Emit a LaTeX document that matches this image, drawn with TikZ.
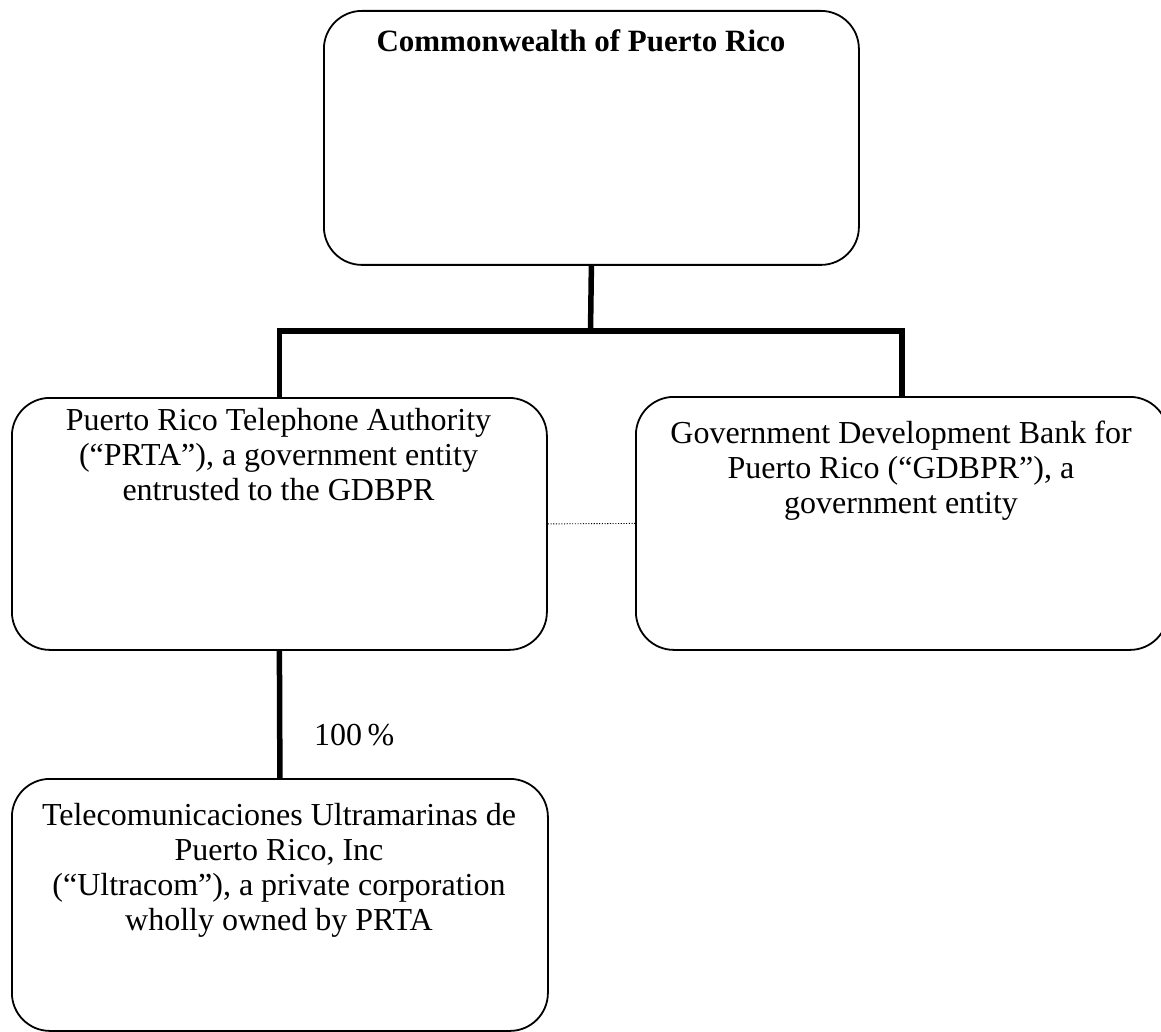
\documentclass[tikz,border=0pt]{standalone}
\usepackage{fontspec}
\setmainfont{Liberation Serif}
\begin{document}
\begin{tikzpicture}[x=1pt,y=-1pt,
  box/.style={draw, line width=1.8pt, rounded corners=38pt, inner sep=0pt, anchor=north west},
  conn/.style={line width=5.5pt},
  dotconn/.style={line width=0.9pt, dash pattern=on 1.1pt off 1.6pt},
  txt/.style={align=center, font=\fontsize{32}{35}\selectfont, inner sep=0pt, anchor=base},
  ttl/.style={font=\fontsize{31}{34}\selectfont\bfseries, inner sep=0pt, anchor=base}]
\useasboundingbox (0,0) rectangle (1161,1032);
\begin{scope}
\clip (0,0) rectangle (1161,1032);
% boxes
\node[box, minimum width=535pt, minimum height=254pt] (cw) at (323,10) {};
\node[box, minimum width=535pt, minimum height=252pt] (prta) at (11,397) {};
\node[box, minimum width=532pt, minimum height=253pt] (gdb) at (635,396) {};
\node[box, minimum width=536pt, minimum height=252pt] (ultra) at (11,778) {};
% texts (anchor base = baseline of the last line)
\node[ttl] (cwt) at (581,52) {Commonwealth of Puerto Rico};
\node[txt] (prtat) at (278.5,500) {Puerto Rico Telephone Authority\\(“PRTA”), a government entity\\entrusted to the GDBPR};
\node[txt] (gdbt) at (901,513) {Government Development Bank for\\Puerto Rico (“GDBPR”), a\\government entity};
\node[txt] (ultrat) at (279,930) {Telecomunicaciones Ultramarinas de\\Puerto Rico, Inc\\(“Ultracom”), a private corporation\\wholly owned by PRTA};
\node[txt, anchor=base west] (pct) at (314,745) {100\,\%};
% connectors
\coordinate (bar) at (590.5,331);
\draw[conn] (cw.south) -- (bar);
\draw[conn] (prta.north) |- (bar) -| (gdb.north);
\draw[conn] (prta.south) -- (ultra.north);
\draw[dotconn] (prta.east) -- (gdb.west);
\end{scope}
\end{tikzpicture}
\end{document}
